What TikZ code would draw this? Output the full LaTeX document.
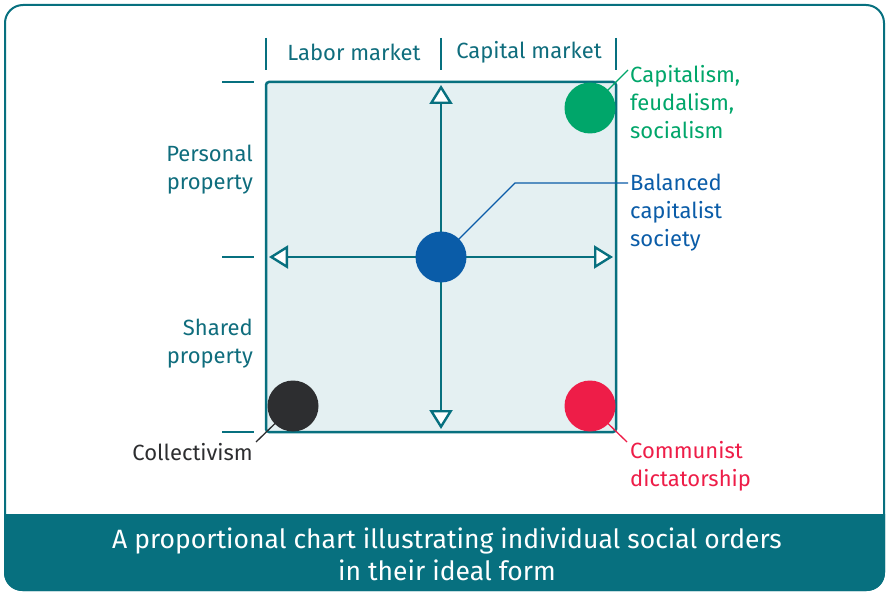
\documentclass[tikz,border=0pt]{standalone}
\usepackage{fontspec}
\setmainfont{Fira Sans}
\usetikzlibrary{arrows.meta}
\definecolor{tealc}{HTML}{07707F}
\definecolor{sqfill}{HTML}{E4F0F2}
\definecolor{greenc}{HTML}{00A66A}
\definecolor{bluec}{HTML}{0A5CA8}
\definecolor{redc}{HTML}{EE1D48}
\definecolor{blackc}{HTML}{2D2E30}
\definecolor{textc}{HTML}{0F6D7D}
\tikzset{
  lbl/.style={font=\fontsize{22}{28}\selectfont, inner sep=0pt},
  tick/.style={draw=tealc, line width=1.2pt},
  axis/.style={draw=tealc, line width=2.4pt, -{Triangle[open, fill=white, length=19pt, width=23pt, line width=2.4pt]}},
  dot/.style={circle, inner sep=0pt, minimum size=51pt},
  leader/.style={line width=1.3pt}
}
\begin{document}
\begin{tikzpicture}[x=1pt,y=-1pt]
\useasboundingbox (0,0) rectangle (888,593);
% outer frame
\draw[tealc, line width=2pt, rounded corners=18pt, fill=white] (5,5) rectangle (884,590);
\begin{scope}
\clip (0,514) rectangle (888,593);
\fill[tealc, rounded corners=18pt] (4,450) rectangle (885,591);
\end{scope}
% square
\node[draw=tealc, fill=sqfill, line width=2.5pt, rounded corners=3pt, minimum width=350pt, minimum height=350pt, inner sep=0pt] (sq) at (441,257) {};
% ticks
\coordinate (t1a) at (266,38); \coordinate (t1b) at (266,70);
\coordinate (t2a) at (441,38); \coordinate (t2b) at (441,70);
\coordinate (t3a) at (616,38); \coordinate (t3b) at (616,70);
\draw[tick] (t1a) -- (t1b); \draw[tick] (t2a) -- (t2b); \draw[tick] (t3a) -- (t3b);
\coordinate (l1a) at (222,82); \coordinate (l1b) at (254,82);
\coordinate (l2a) at (222,257); \coordinate (l2b) at (254,257);
\coordinate (l3a) at (222,432); \coordinate (l3b) at (254,432);
\draw[tick] (l1a) -- (l1b); \draw[tick] (l2a) -- (l2b); \draw[tick] (l3a) -- (l3b);
% axes
\coordinate (at) at (441,85); \coordinate (ab) at (441,429);
\coordinate (al) at (269,257); \coordinate (ar) at (613,257);
\draw[axis] (sq.center) -- (at);
\draw[axis] (sq.center) -- (ab);
\draw[axis] (sq.center) -- (al);
\draw[axis] (sq.center) -- (ar);
% dots
\node[dot, fill=greenc] (cg) at (590,108) {};
\node[dot, fill=bluec] (cb) at (441,257) {};
\node[dot, fill=blackc] (ck) at (293,406) {};
\node[dot, fill=redc] (cr) at (590,406) {};
% leaders
\coordinate (eg) at (628,70);
\coordinate (eb1) at (515,183); \coordinate (eb2) at (628,183);
\coordinate (ek) at (256,442);
\coordinate (er) at (627,442);
\draw[leader, greenc] (cg.center) -- (eg);
\draw[leader, bluec] (cb.center) -- (eb1) -- (eb2);
\draw[leader, blackc] (ck.center) -- (ek);
\draw[leader, redc] (cr.center) -- (er);
% labels
\node[lbl, text=textc] (labor) at (354,52) {Labor market};
\node[lbl, text=textc] (capital) at (529,52) {Capital market};
\node[lbl, text=textc, anchor=east, align=right] (pers) at (253,170) {Personal\\property};
\node[lbl, text=textc, anchor=east, align=right] (shared) at (253,344) {Shared\\property};
\node[lbl, text=blackc, anchor=east] (coll) at (253,452) {Collectivism};
\node[lbl, text=greenc, anchor=west, align=left] (lgreen) at (630,102.5) {Capitalism,\\feudalism,\\socialism};
\node[lbl, text=bluec, anchor=west, align=left] (lblue) at (630,213) {Balanced\\capitalist\\society};
\node[lbl, text=redc, anchor=west, align=left] (lred) at (630,466) {Communist\\dictatorship};
% banner
\node[font=\fontsize{26.5}{32}\selectfont, text=white, align=center, inner sep=0pt] (title) at (447,554) {A proportional chart illustrating individual social orders\\in their ideal form};
\end{tikzpicture}
\end{document}
